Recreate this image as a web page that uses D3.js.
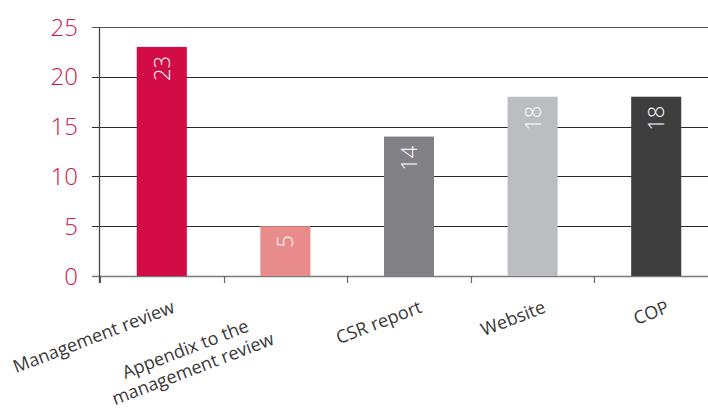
<!DOCTYPE html>
<html>
<head>
<meta charset="utf-8">
<script src="https://cdn.jsdelivr.net/npm/d3@7"></script>
<style>
  html, body { margin: 0; padding: 0; background: #fff; }
  svg { display: block; font-family: "Open Sans", sans-serif; }
</style>
</head>
<body>
<svg id="chart" width="708" height="415"></svg>
<script>
const categories = ["Management review", "Appendix to the management review", "CSR report", "Website", "COP"];
const categoryLines = [["Management review"], ["Appendix to the", "management review"], ["CSR report"], ["Website"], ["COP"]];
const values = [23, 5, 14, 18, 18];
const barColors = ["#d20c44", "#e98b8a", "#808085", "#bcbdc1", "#3e3e3e"];
const yTicks = [0, 5, 10, 15, 20, 25];

const svg = d3.select("#chart");
const x0 = 100, step = 123.6;
const x = d3.scaleBand().domain(categories)
  .range([x0, x0 + step * categories.length])
  .paddingInner(0.595).paddingOuter(0.2975);
const y = d3.scaleLinear().domain([0, 25]).range([276, 27]);

// gridlines
svg.append("g").selectAll("line").data(yTicks).join("line")
  .attr("x1", 92).attr("x2", 708)
  .attr("y1", d => Math.round(y(d)) + 0.5).attr("y2", d => Math.round(y(d)) + 0.5)
  .attr("stroke", d => d === 0 ? "#7a7a7a" : (d === 25 ? "#555" : "#2a2a2a"))
  .attr("stroke-width", d => d === 0 ? 1.6 : 1.2);

// y tick labels
svg.append("g").selectAll("text").data(yTicks).join("text")
  .attr("x", 78).attr("y", d => y(d))
  .attr("dy", "0.36em")
  .attr("text-anchor", "end")
  .attr("fill", "#d0174a")
  .attr("font-size", 24).attr("font-weight", 300)
  .text(d => d);

// bars
svg.append("g").selectAll("rect").data(values).join("rect")
  .attr("x", (d, i) => x(categories[i]))
  .attr("width", x.bandwidth())
  .attr("y", d => y(d))
  .attr("height", d => y(0) - y(d))
  .attr("fill", (d, i) => barColors[i]);

// x axis ticks at band boundaries
const bounds = d3.range(categories.length + 1).map(i => x0 + step * i);
svg.append("g").selectAll("line").data(bounds).join("line")
  .attr("x1", d => Math.round(d) + 0.5).attr("x2", d => Math.round(d) + 0.5)
  .attr("y1", 276).attr("y2", 283)
  .attr("stroke", "#666").attr("stroke-width", 1.2);

// y axis line
svg.append("line")
  .attr("x1", 99.5).attr("x2", 99.5).attr("y1", y(25)).attr("y2", 283)
  .attr("stroke", "#444").attr("stroke-width", 1.3);

// value labels inside bars
svg.append("g").selectAll("text").data(values).join("text")
  .attr("transform", (d, i) => `translate(${x(categories[i]) + x.bandwidth() / 2 + 8},${y(d) + 9}) rotate(-90)`)
  .attr("text-anchor", "end")
  .attr("fill", "#fff")
  .attr("font-size", 22).attr("font-weight", 300)
  .text(d => d);

// category labels, rotated
const lh = 21;
categories.forEach((c, i) => {
  const cx = x(c) + x.bandwidth() / 2;
  const lines = categoryLines[i];
  const g = svg.append("g")
    .attr("transform", `translate(${cx + 14},312) rotate(-21)`);
  const t = g.append("text")
    .attr("fill", "#383838")
    .attr("font-size", 18)
    .attr("text-anchor", "middle");
  const tsp = t.selectAll("tspan").data(lines).join("tspan")
    .attr("y", (d, j) => j * lh)
    .text(d => d);
  const widths = tsp.nodes().map(n => n.getComputedTextLength());
  const maxW = d3.max(widths);
  tsp.attr("x", -maxW / 2 - (lines.length - 1) * 34);
});
</script>
</body>
</html>
